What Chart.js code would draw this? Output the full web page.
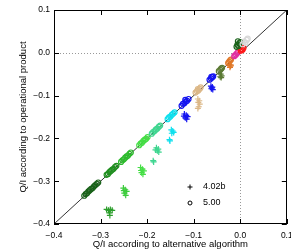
<!DOCTYPE html>
<html><head><meta charset="utf-8">
<script src="https://cdn.jsdelivr.net/npm/chart.js@4"></script>
<style>html,body{margin:0;padding:0;background:#fff;}#wrap{width:291px;height:250px;}</style>
</head><body><div id="wrap"><canvas id="c" width="291" height="250"></canvas></div>
<script>
// ---- data ----
const xTicks = [-0.4, -0.3, -0.2, -0.1, 0.0, 0.1];
const xTickLabels = ['\u22120.4', '\u22120.3', '\u22120.2', '\u22120.1', '0.0', '0.1'];
const yTicks = [-0.4, -0.3, -0.2, -0.1, 0.0, 0.1];
const yTickLabels = ['\u22120.4', '\u22120.3', '\u22120.2', '\u22120.1', '0.0', '0.1'];
const legendLabels = ['4.02b', '5.00'];

// version 5.00 (circles)
const circX = [
 -0.335,-0.332,-0.329,-0.326,-0.323,-0.320,-0.317,-0.314,-0.311,-0.308,-0.305,
 -0.287,-0.284,-0.281,-0.278,-0.275,-0.272,-0.269,-0.266,
 -0.256,-0.253,-0.250,-0.247,-0.244,-0.241,-0.238,-0.235,
 -0.217,-0.214,-0.211,-0.208,-0.205,-0.202,-0.199,
 -0.190,-0.187,-0.184,-0.181,-0.178,-0.175,-0.172,
 -0.156,-0.153,-0.150,-0.147,-0.144,-0.141,
 -0.126,-0.123,-0.120,-0.117,-0.114,-0.111,-0.118,
 -0.096,-0.093,-0.090,-0.087,-0.085,-0.091,
 -0.066,-0.063,-0.060,-0.058,-0.062,
 -0.046,-0.043,-0.041,-0.039,
 -0.026,-0.024,-0.022,-0.020,
 -0.013,-0.011,-0.009,-0.007,-0.005,
  0.001, 0.003, 0.005, 0.007,
 -0.008,-0.006,-0.004,-0.002, 0.000,-0.005,
  0.005, 0.008, 0.011, 0.014, 0.016
];
const circY = [
 -0.334,-0.330,-0.328,-0.324,-0.321,-0.318,-0.316,-0.312,-0.309,-0.306,-0.303,
 -0.285,-0.283,-0.279,-0.276,-0.273,-0.271,-0.267,-0.264,
 -0.255,-0.251,-0.249,-0.245,-0.242,-0.240,-0.236,-0.233,
 -0.216,-0.212,-0.210,-0.206,-0.203,-0.201,-0.197,
 -0.189,-0.185,-0.183,-0.179,-0.177,-0.173,-0.170,
 -0.155,-0.151,-0.149,-0.145,-0.142,-0.139,
 -0.124,-0.119,-0.118,-0.114,-0.112,-0.108,-0.110,
 -0.093,-0.090,-0.088,-0.084,-0.081,-0.085,
 -0.063,-0.060,-0.057,-0.055,-0.056,
 -0.043,-0.040,-0.037,-0.035,
 -0.024,-0.021,-0.018,-0.016,
 -0.008,-0.006,-0.004,-0.001, 0.001,
  0.005, 0.008, 0.007, 0.011,
  0.014, 0.019, 0.016, 0.022, 0.025, 0.027,
  0.020, 0.026, 0.024, 0.030, 0.033
];
const circGroup = [
 0,0,0,0,0,0,0,0,0,0,0,
 1,1,1,1,1,1,1,1,
 2,2,2,2,2,2,2,2,
 3,3,3,3,3,3,3,
 4,4,4,4,4,4,4,
 5,5,5,5,5,5,
 6,6,6,6,6,6,6,
 7,7,7,7,7,7,
 6,6,6,6,6,
 8,8,8,8,
 9,9,9,9,
 10,10,10,10,10,
 11,11,11,11,
 0,0,0,0,0,0,
 12,12,12,12,12
];

// version 4.02b (plus)
const plusX = [
 -0.023,-0.021,-0.022,-0.020,
 -0.042,-0.040,-0.041,-0.043,
 -0.063,-0.060,-0.062,-0.059,-0.061,
 -0.091,-0.088,-0.090,-0.087,-0.089,-0.091,
 -0.120,-0.116,-0.113,-0.118,-0.115,-0.121,
 -0.148,-0.145,-0.143,-0.147,-0.152,-0.151,
 -0.180,-0.176,-0.178,-0.175,-0.182,-0.187,-0.186,
 -0.214,-0.210,-0.207,-0.212,-0.209,-0.213,
 -0.251,-0.247,-0.244,-0.249,-0.246,-0.250,
 -0.287,-0.283,-0.279,-0.275,-0.281,-0.280
];
const plusY = [
 -0.027,-0.031,-0.034,-0.029,
 -0.050,-0.054,-0.058,-0.056,
 -0.078,-0.080,-0.084,-0.086,-0.082,
 -0.108,-0.112,-0.116,-0.120,-0.126,-0.130,
 -0.143,-0.146,-0.149,-0.152,-0.155,-0.148,
 -0.180,-0.183,-0.186,-0.188,-0.203,-0.206,
 -0.222,-0.225,-0.229,-0.232,-0.227,-0.252,-0.255,
 -0.268,-0.272,-0.276,-0.280,-0.284,-0.275,
 -0.316,-0.320,-0.324,-0.328,-0.333,-0.322,
 -0.366,-0.368,-0.366,-0.368,-0.374,-0.380
];
const plusGroup = [
 9,9,9,9,
 8,8,8,8,
 6,6,6,6,6,
 7,7,7,7,7,7,
 6,6,6,6,6,6,
 5,5,5,5,5,5,
 4,4,4,4,4,4,4,
 3,3,3,3,3,3,
 14,14,14,14,14,14,
 13,13,13,13,13,13
];

const diagX = [-0.4, 0.1];
const diagY = [-0.4, 0.1];

// ---- styles ----
const palette = ['#1a621a','#208f20','#2dbb2d','#45de45','#3fd690','#10e0ee','#1414f0',
  '#dcb888','#5b7a34','#e07828','#e030a0','#ff1818','#d8d8d8','#2c9e2c','#3ccc3c'];
const FONT = {family: '"Liberation Sans", Arial, sans-serif', size: 8.5};
const TFONT = {family: '"Liberation Sans", Arial, sans-serif', size: 9.5};

const circData = circX.map((x, i) => ({x, y: circY[i]}));
const plusData = plusX.map((x, i) => ({x, y: plusY[i]}));
const diagData = diagX.map((x, i) => ({x, y: diagY[i]}));

const decor = {
  id: 'decor',
  beforeDatasetsDraw(chart) {
    const {ctx, chartArea: a, scales: {x, y}} = chart;
    ctx.save();
    ctx.strokeStyle = '#999';
    ctx.lineWidth = 1;
    ctx.setLineDash([1, 2]);
    const x0 = Math.round(x.getPixelForValue(0)) + 0.5;
    const y0 = Math.round(y.getPixelForValue(0)) + 0.5;
    ctx.beginPath();
    ctx.moveTo(x0, a.top); ctx.lineTo(x0, a.bottom);
    ctx.moveTo(a.left, y0); ctx.lineTo(a.right, y0);
    ctx.stroke();
    ctx.restore();
  },
  afterDraw(chart) {
    const {ctx, chartArea: a, scales: {x, y}} = chart;
    ctx.save();
    ctx.strokeStyle = '#000';
    ctx.lineWidth = 1;
    ctx.strokeRect(Math.round(a.left) + 0.5, Math.round(a.top) + 0.5,
      Math.round(a.right - a.left) - 1, Math.round(a.bottom - a.top) - 1);
    const tl = 5;
    ctx.beginPath();
    xTicks.forEach(v => {
      const px = Math.round(x.getPixelForValue(v)) + 0.5;
      ctx.moveTo(px, a.bottom); ctx.lineTo(px, a.bottom - tl);
      ctx.moveTo(px, a.top); ctx.lineTo(px, a.top + tl);
    });
    yTicks.forEach(v => {
      const py = Math.round(y.getPixelForValue(v)) + 0.5;
      ctx.moveTo(a.left, py); ctx.lineTo(a.left + tl, py);
      ctx.moveTo(a.right, py); ctx.lineTo(a.right - tl, py);
    });
    ctx.stroke();
    // legend
    const lx = a.left + 136, ly1 = a.top + 177, ly2 = a.top + 193;
    ctx.beginPath();
    ctx.moveTo(lx - 2.5, ly1); ctx.lineTo(lx + 2.5, ly1);
    ctx.moveTo(lx, ly1 - 2.5); ctx.lineTo(lx, ly1 + 2.5);
    ctx.stroke();
    ctx.beginPath();
    ctx.arc(lx, ly2, 2, 0, Math.PI * 2);
    ctx.stroke();
    ctx.fillStyle = '#000';
    ctx.font = '9px ' + FONT.family;
    ctx.textBaseline = 'middle';
    ctx.textAlign = 'left';
    ctx.fillText(legendLabels[0], lx + 13, ly1);
    ctx.fillText(legendLabels[1], lx + 13, ly2);
    ctx.restore();
  }
};

new Chart(document.getElementById('c'), {
  type: 'scatter',
  data: {
    datasets: [
      {label: '5.00', data: circData, pointStyle: 'circle', pointRadius: 2.5, pointHoverRadius: 2.5,
        pointBorderWidth: 1.2, pointBackgroundColor: 'rgba(0,0,0,0)',
        pointBorderColor: circGroup.map(g => palette[g])},
      {label: '4.02b', data: plusData, pointStyle: 'cross', pointRadius: 3, pointHoverRadius: 3,
        pointBorderWidth: 1.2, pointBorderColor: plusGroup.map(g => palette[g])},
      {type: 'line', label: 'diag', data: diagData, borderColor: '#333', borderWidth: 1,
        pointRadius: 0, fill: false}
    ]
  },
  options: {
    responsive: false,
    animation: false,
    devicePixelRatio: 1,
    layout: {padding: {top: 10, right: 2, left: 0, bottom: 0}},
    plugins: {legend: {display: false}, tooltip: {enabled: false}},
    scales: {
      x: {
        type: 'linear', min: -0.4, max: 0.1,
        afterBuildTicks: s => { s.ticks = xTicks.map(v => ({value: v})); },
        afterFit: s => { s.height = 26; s.paddingLeft = 0; s.paddingRight = 0; },
        grid: {display: false, drawTicks: false},
        border: {display: false},
        ticks: {color: '#000', font: FONT, padding: 7, maxRotation: 0, autoSkip: false,
          callback: (v, i) => xTickLabels[i]},
        title: {display: true, text: 'Q/I according to alternative algorithm', color: '#000',
          font: TFONT, padding: {top: 0, bottom: 0}}
      },
      y: {
        type: 'linear', min: -0.4, max: 0.1,
        afterBuildTicks: s => { s.ticks = yTicks.map(v => ({value: v})); },
        afterFit: s => { s.width = 54; s.paddingTop = 0; s.paddingBottom = 0; },
        grid: {display: false, drawTicks: false},
        border: {display: false},
        ticks: {color: '#000', font: FONT, padding: 4, autoSkip: false,
          callback: (v, i) => yTickLabels[i]},
        title: {display: true, text: 'Q/I according to operational product', color: '#000',
          font: TFONT, padding: {top: 18, bottom: 0}}
      }
    }
  },
  plugins: [decor]
});
</script></body></html>
